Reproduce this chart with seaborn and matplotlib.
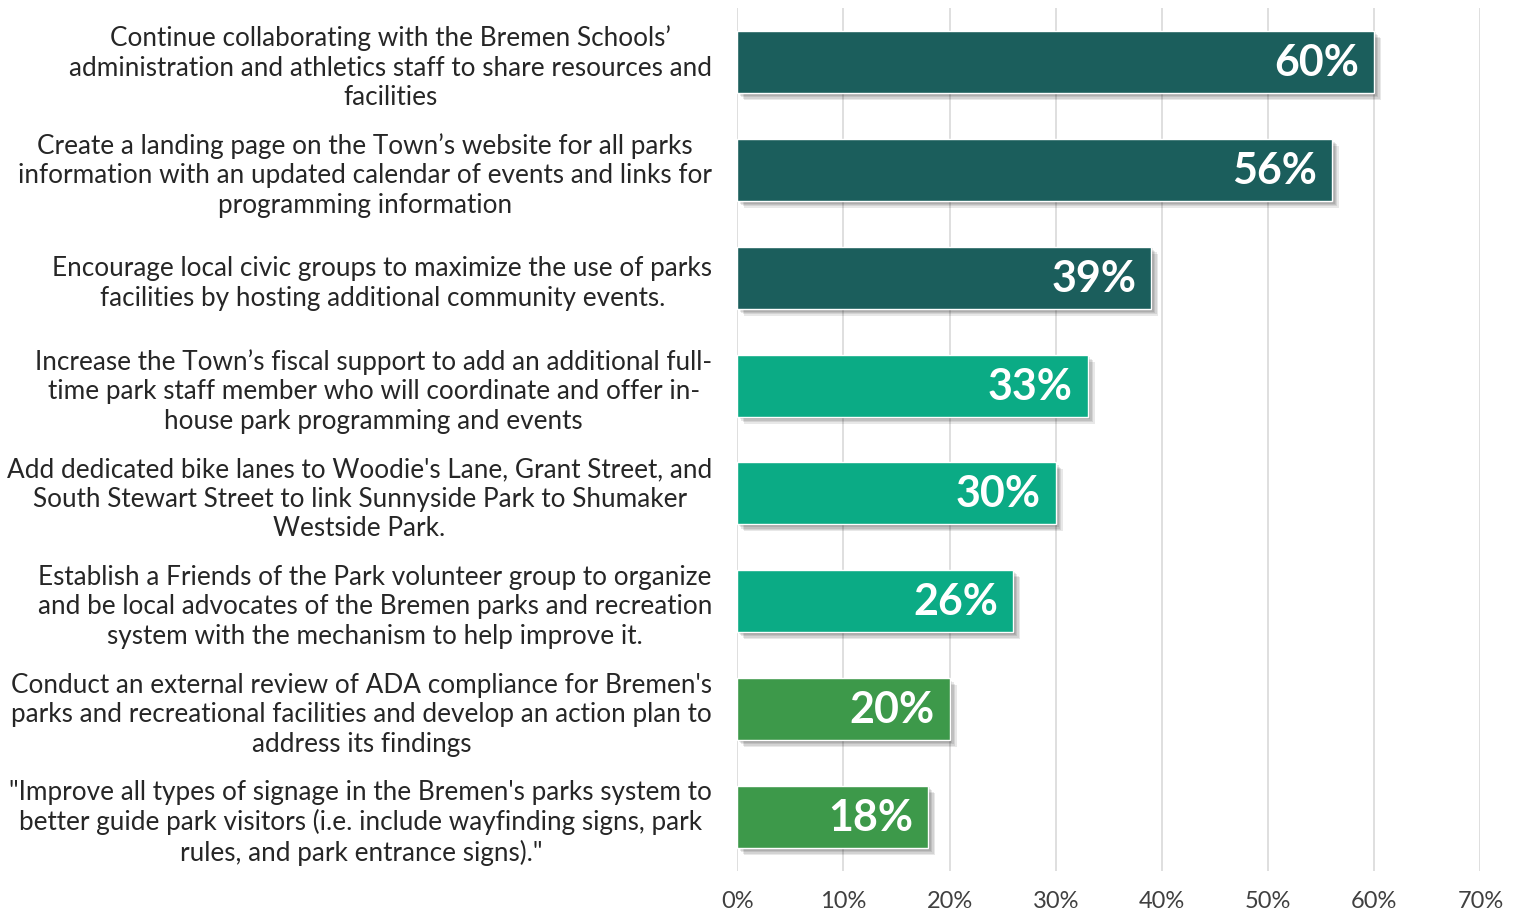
import matplotlib
matplotlib.use("Agg")
import matplotlib.pyplot as plt
import matplotlib.patheffects as pe
import seaborn as sns
import pandas as pd

categories = [
    "Continue collaborating with the Bremen Schools’\nadministration and athletics staff to share resources and\nfacilities",
    "Create a landing page on the Town’s website for all parks\ninformation with an updated calendar of events and links for\nprogramming information",
    "Encourage local civic groups to maximize the use of parks\nfacilities by hosting additional community events.",
    "Increase the Town’s fiscal support to add an additional full-\ntime park staff member who will coordinate and offer in-\nhouse park programming and events",
    "Add dedicated bike lanes to Woodie's Lane, Grant Street, and\nSouth Stewart Street to link Sunnyside Park to Shumaker\nWestside Park.",
    "Establish a Friends of the Park volunteer group to organize\nand be local advocates of the Bremen parks and recreation\nsystem with the mechanism to help improve it.",
    "Conduct an external review of ADA compliance for Bremen's\nparks and recreational facilities and develop an action plan to\naddress its findings",
    "\"Improve all types of signage in the Bremen's parks system to\nbetter guide park visitors (i.e. include wayfinding signs, park\nrules, and park entrance signs).\"",
]
values = [60, 56, 39, 33, 30, 26, 20, 18]
bar_colors = ["#1b5e5c", "#1b5e5c", "#1b5e5c", "#0bab85", "#0bab85", "#0bab85", "#3d994a", "#3d994a"]
x_ticks = [0, 10, 20, 30, 40, 50, 60, 70]

df = pd.DataFrame({"item": categories, "pct": values})

sns.set_theme(style="whitegrid")
plt.rcParams["font.family"] = ["Lato", "DejaVu Sans"]

fig = plt.figure(figsize=(15.2, 9.12), dpi=100)
ax = fig.add_axes([0.485, 0.044, 0.489, 0.946])

sns.barplot(data=df, x="pct", y="item", hue="item", palette=bar_colors,
            legend=False, width=0.575, ax=ax, saturation=1)

# soft drop shadow like the original
shadow = [pe.SimplePatchShadow(offset=(o, -o), shadow_rgbFace="#000000", alpha=0.09)
          for o in (1, 2, 3, 4, 5)]
for bar in ax.patches:
    bar.set_path_effects(shadow + [pe.Normal()])

for i, v in enumerate(values):
    ax.text(v - 1.4, i, f"{v}%", ha="right", va="center", color="white",
            fontsize=31, fontweight="bold")

ax.set_xlim(0, 70)
ax.set_ylim(7.5, -0.5)
ax.set_xticks(x_ticks)
ax.set_xticklabels([f"{t}%" for t in x_ticks], fontsize=17, color="#404040")
ax.set_xlabel("")
ax.set_ylabel("")
ax.tick_params(axis="y", labelsize=18.8, labelcolor="#262626", pad=18, length=0)
ax.tick_params(axis="x", pad=14, length=0)
for lbl in ax.get_yticklabels():
    lbl.set_multialignment("center")
    lbl.set_linespacing(1.22)

ax.grid(axis="x", color="#d9d9d9", linewidth=1.2)
ax.grid(axis="y", visible=False)
for s in ax.spines.values():
    s.set_visible(False)

fig.savefig("out.png", dpi=100, facecolor="white")
